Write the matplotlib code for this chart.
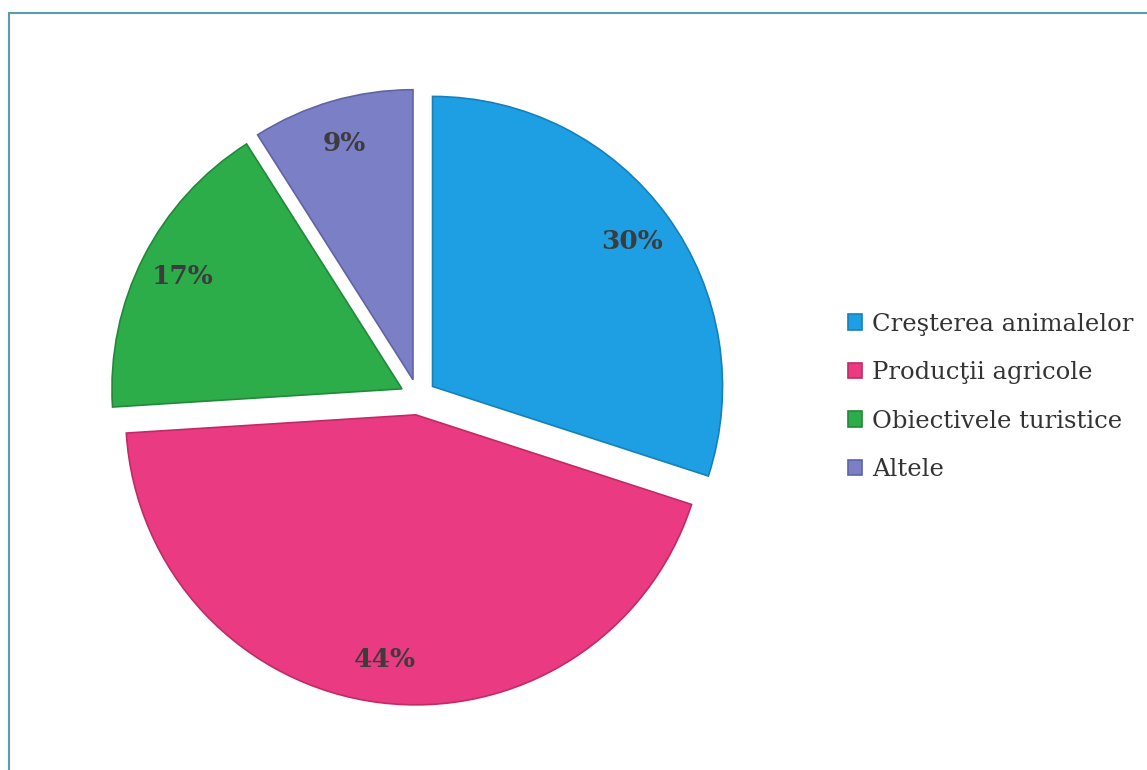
import matplotlib.pyplot as plt
from matplotlib.patches import Rectangle

# data
categories = ['Creşterea animalelor', 'Producţii agricole', 'Obiectivele turistice', 'Altele']
shares = [30, 44, 17, 9]
colors = ['#1e9fe4', '#ea3a82', '#2dac4a', '#7b80c6']
edge_colors = ['#1680bb', '#c22a66', '#22893a', '#5f64a6']

fig = plt.figure(figsize=(11.47, 7.70), dpi=100)

# frame around the chart area (right/bottom edges run off the page)
fig.patches.append(Rectangle((9 / 1147, -0.1), 1.2, (770 - 13) / 770 + 0.1,
                             transform=fig.transFigure, fill=False,
                             edgecolor='#5b9cb3', linewidth=1.5))

# pie centred at about (417, 396) px, radius ~290 px
r_px = 290
half = 1.1 * r_px
ax = fig.add_axes([(418 - half) / 1147, (770 - 397 - half) / 770,
                   2 * half / 1147, 2 * half / 770])

wedges, texts, autotexts = ax.pie(
    shares, startangle=90, counterclock=False,
    explode=[0.062] * len(shares), colors=colors,
    autopct='%d%%', pctdistance=0.85,
    textprops=dict(fontsize=19, fontweight='bold', family='DejaVu Serif',
                   color='#3c3c3c'),
    wedgeprops=dict(linewidth=1.2),
)
ax.set_xlim(-1.1, 1.1)
ax.set_ylim(-1.1, 1.1)
ax.set_aspect('equal')
ax.axis('off')
for w, ec in zip(wedges, edge_colors):
    w.set_edgecolor(ec)

leg = fig.legend(wedges, categories, loc='center left',
                 bbox_to_anchor=(826 / 1147, (770 - 397) / 770),
                 frameon=False, handlelength=0.6, handleheight=0.6,
                 handletextpad=0.4, labelspacing=1.05,
                 prop=dict(family='DejaVu Serif', size=17.5))
for t in leg.get_texts():
    t.set_color('#333333')

fig.savefig('out.png', dpi=100)
